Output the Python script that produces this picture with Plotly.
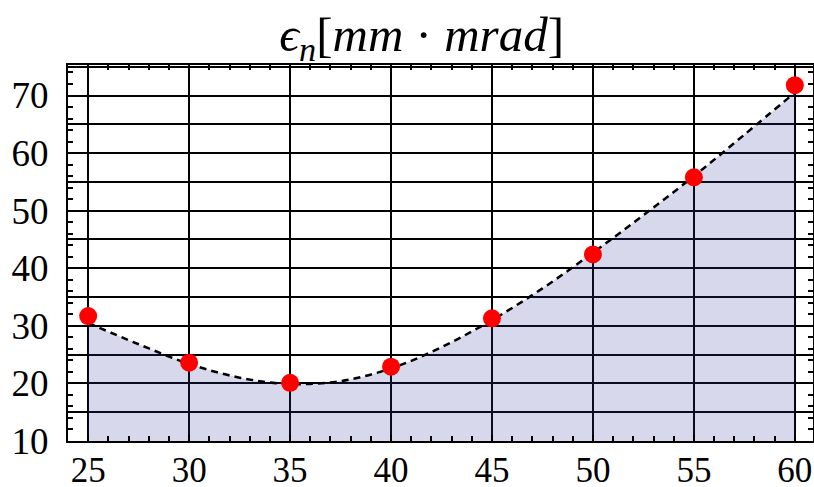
import plotly.graph_objects as go

# measured points
x_pts = [25, 30, 35, 40, 45, 50, 55, 60]
y_pts = [31.7, 23.6, 20.1, 22.9, 31.3, 42.4, 55.8, 71.8]

# fitted (dashed) curve
x_fit = [25, 27.5, 30, 32.5, 35, 37.5, 40, 42.5, 45, 47.5, 50, 52.5, 55, 57.5, 60]
y_fit = [30.5, 26.8, 23.4, 21.0, 19.9, 20.4, 22.6, 26.3, 31.0, 36.5, 42.7, 49.2, 56.0, 63.2, 70.5]

x_ticks = [25, 30, 35, 40, 45, 50, 55, 60]
y_ticks = [10, 20, 30, 40, 50, 60, 70]
x_range = [24, 60.9]
y_range = [10, 75.3]

title_text = "<i>ϵ<sub>n</sub></i>[<i>mm</i> · <i>mrad</i>]"

fig = go.Figure()
fig.add_trace(go.Scatter(
    x=x_fit, y=y_fit, mode="lines", line=dict(color="black", width=2.5, dash="7px,5px", shape="spline"),
    fill="tozeroy", fillcolor="rgba(60,60,160,0.2)", hoverinfo="skip", showlegend=False))
fig.add_trace(go.Scatter(
    x=x_pts, y=y_pts, mode="markers", marker=dict(color="#ff0000", size=18),
    showlegend=False))
# invisible trace to activate the grid axis
fig.add_trace(go.Scatter(x=[x_range[0]], y=[y_range[0]], yaxis="y2", mode="markers",
                         marker=dict(opacity=0), hoverinfo="skip", showlegend=False))

yfont = dict(family="Liberation Serif, Times New Roman, serif", size=37, color="black")
xfont = dict(family="Liberation Serif, Times New Roman, serif", size=35, color="black")

fig.update_layout(
    width=814, height=487,
    margin=dict(l=68, r=1, t=65, b=46, autoexpand=False),
    paper_bgcolor="white", plot_bgcolor="white",
    title=dict(text=title_text, x=0.518, xanchor="center", y=1 - 34 / 487, yanchor="middle",
               yref="container", font=dict(family="Liberation Serif, DejaVu Serif, serif", size=49, color="black")),
    xaxis=dict(range=x_range, tickvals=x_ticks, ticks="inside", ticklen=6, tickwidth=1.5,
               tickcolor="black", showline=True, linecolor="black", linewidth=2, mirror="ticks",
               showgrid=True, gridcolor="black", gridwidth=2, zeroline=False, automargin=False,
               tickfont=xfont, ticklabelstandoff=-3,
               minor=dict(dtick=1, tick0=0, ticks="inside", ticklen=5, tickwidth=1.5, tickcolor="black", showgrid=False)),
    yaxis=dict(range=y_range, tickvals=y_ticks, ticks="inside", ticklen=6, tickwidth=1.5,
               tickcolor="black", showline=True, linecolor="black", linewidth=2, mirror="ticks",
               showgrid=False, zeroline=False, tickfont=yfont, ticklabelstandoff=10, automargin=False,
               minor=dict(dtick=2, tick0=0, ticks="inside", ticklen=5, tickwidth=1.5, tickcolor="black", showgrid=False)),
    yaxis2=dict(range=y_range, overlaying="y", dtick=5, tick0=0, showgrid=True, gridcolor="black",
                gridwidth=2, showticklabels=False, ticks="", zeroline=False, showline=False, automargin=False),
)

fig.write_html("out.html")
